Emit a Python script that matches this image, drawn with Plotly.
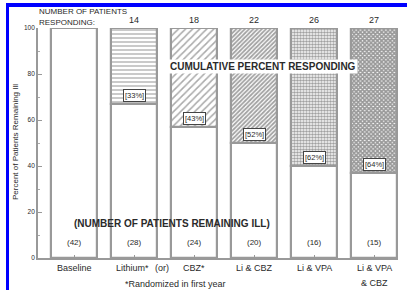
import plotly.graph_objects as go

categories = ["Baseline", "Lithium* (or)", "CBZ*", "Li & CBZ", "Li & VPA", "Li & VPA & CBZ"]
tick_labels = ["Baseline", "Lithium*", "CBZ*", "Li & CBZ", "Li & VPA", "Li & VPA<br>& CBZ"]
n_responding = [None, 14, 18, 22, 26, 27]
n_remaining = [42, 28, 24, 20, 16, 15]
pct_remaining = [100, 67, 57, 50, 40, 37]
pct_label = [None, "33%", "43%", "52%", "62%", "64%"]

W, H = 407, 290
L, R, T, B = 38, 398, 28, 258
xs = list(range(len(categories)))

def px(x):
    return (x - L) / (R - L)

def py(y):
    return (B - y) / (B - T)

patterns = ["", "-", "/", "/", ".", "x"]
pat_size = [6, 4, 5, 3, 3, 3]
pat_sol = [0.2, 0.35, 0.3, 0.6, 0.6, 0.8]
pat_fg = ["#888", "#666", "#555", "#444", "#444", "#333"]
outline = dict(color="#999999", width=2.2)

fig = go.Figure()
fig.add_trace(go.Bar(
    x=xs, y=pct_remaining, width=0.77,
    marker=dict(color="white", line=outline),
    showlegend=False, hoverinfo="skip"))
for i in xs:
    resp = 100 - pct_remaining[i]
    if resp <= 0:
        continue
    fig.add_trace(go.Bar(
        x=[i], y=[resp], base=[pct_remaining[i]], width=0.77,
        marker=dict(color="white", line=outline,
                    pattern=dict(shape=patterns[i], size=pat_size[i], solidity=pat_sol[i],
                                 fgcolor=pat_fg[i], bgcolor="white", fillmode="overlay")),
        showlegend=False, hoverinfo="skip"))

font = "Liberation Sans, Arial, sans-serif"
txt = "#2a2a2a"
ann = []
def add(text, x, y, size, **kw):
    d = dict(text=text, x=px(x), y=py(y), xref="paper", yref="paper", showarrow=False,
             font=dict(family=font, size=size, color=txt), xanchor="center", yanchor="middle")
    d.update(kw)
    ann.append(d)

centers = [74 + 60 * i for i in xs]
add("NUMBER OF PATIENTS", 37, 12, 8, xanchor="left")
add("RESPONDING:", 37, 23, 8, xanchor="left")
for i in xs:
    if n_responding[i] is not None:
        add(str(n_responding[i]), centers[i], 20, 9)
    add("(%d)" % n_remaining[i], centers[i], 242, 8)
    if pct_label[i]:
        ylab = B - (pct_remaining[i] + 3.8) * (B - T) / 100
        add("[" + pct_label[i] + "]", centers[i], ylab, 7.5, bgcolor="white",
            bordercolor="#444", borderwidth=1, borderpad=1)
add("<b>CUMULATIVE PERCENT RESPONDING</b>", 263, 66, 10, bgcolor="white", borderpad=1)
add("<b>(NUMBER OF PATIENTS REMAINING ILL)</b>", 172, 223, 10)
for i in xs:
    if i == 5:
        add("Li & VPA", centers[i], 268, 9)
        add("& CBZ", centers[i], 283, 9)
    else:
        add(tick_labels[i], centers[i] - (2 if i == 1 else 0), 268, 9)
add("(or)", 162, 268, 9)
add("*Randomized in first year", 175, 284, 9)
add("Percent of Patients Remaining Ill", 15, 142, 8, textangle=-90)

# blue page frame (decoration)
fig.add_shape(type="rect", xref="paper", yref="paper", x0=px(6), x1=px(9), y0=py(3), y1=py(H),
              fillcolor="#0000ff", line=dict(width=0), layer="above")
fig.add_shape(type="rect", xref="paper", yref="paper", x0=px(6), x1=px(W), y0=py(3), y1=py(7),
              fillcolor="#0000ff", line=dict(width=0), layer="above")

fig.update_layout(
    width=W, height=H, margin=dict(l=L, r=W - R, t=T, b=H - B),
    paper_bgcolor="white", plot_bgcolor="white", barmode="overlay", bargap=0,
    annotations=ann,
    xaxis=dict(range=[-0.6, 5.4], tickvals=xs, showticklabels=False, ticks="inside",
               ticklen=3, tickcolor="#999", showline=True, linecolor="#999", linewidth=1.8,
               showgrid=False, zeroline=False, fixedrange=True),
    yaxis=dict(range=[0, 100], tickvals=[0, 20, 40, 60, 80, 100], ticks="inside", ticklen=4,
               tickcolor="#999", minor=dict(dtick=10, ticks="inside", ticklen=2, tickcolor="#aaa"),
               showline=True, linecolor="#999", linewidth=1.8, showgrid=False, zeroline=False,
               tickfont=dict(family=font, size=6.5, color=txt), fixedrange=True),
)
fig.write_html("out.html", config={"displayModeBar": False},
               post_script="document.body.style.margin='0';document.body.style.overflow='hidden';")
